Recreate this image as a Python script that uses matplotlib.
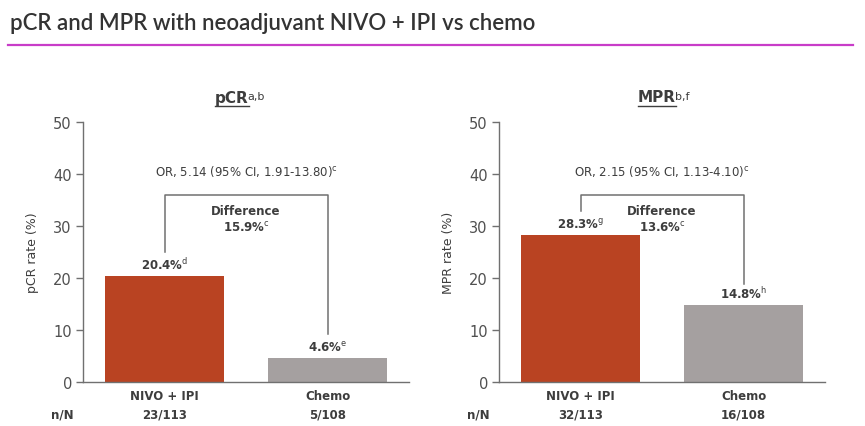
import matplotlib
matplotlib.use('Agg')
import matplotlib.pyplot as plt
from matplotlib.lines import Line2D

plt.rcParams['font.family'] = ['DejaVu Sans']
plt.rcParams['mathtext.fontset'] = 'dejavusans'

# data
groups = ['NIVO + IPI', 'Chemo']
counts_pcr = ['23/113', '5/108']
counts_mpr = ['32/113', '16/108']
pcr = [20.4, 4.6]
mpr = [28.3, 14.8]
pcr_labels = ['20.4%$^{\\mathrm{d}}$', '4.6%$^{\\mathrm{e}}$']
mpr_labels = ['28.3%$^{\\mathrm{g}}$', '14.8%$^{\\mathrm{h}}$']
pcr_or = 'OR, 5.14 (95% CI, 1.91-13.80)$^{\\mathrm{c}}$'
mpr_or = 'OR, 2.15 (95% CI, 1.13-4.10)$^{\\mathrm{c}}$'
pcr_diff = '15.9%$^{\\mathrm{c}}$'
mpr_diff = '13.6%$^{\\mathrm{c}}$'
# bracket: top level, left leg bottom, right leg bottom
pcr_bracket = [36, 25, 9.2]
mpr_bracket = [36, 32.9, 18.8]

W, H = 865, 427
txt = '#3d3d3d'
axc = '#707070'
bar_colors = ['#b94322', '#a5a0a0']

fig = plt.figure(figsize=(W / 100, H / 100), dpi=100)
fig.patch.set_facecolor('white')

fig.text(10 / W, 1 - 24 / H, 'pCR and MPR with neoadjuvant NIVO + IPI vs chemo',
         fontsize=16, color='#333333', va='center', ha='left',
         family=['Lato', 'DejaVu Sans'], fontweight='semibold')
fig.add_artist(Line2D([8 / W, 853 / W], [1 - 46 / H] * 2, color='#c83cc8', lw=1.6))


def panel(x0, vals, labels, counts, ortxt, diff, bracket, ylab, title, tcx, diff_x):
    ax = fig.add_axes([x0 / W, (H - 383) / H, 326 / W, 260 / H])
    ax.bar([0, 1], vals, width=0.73, color=bar_colors, edgecolor='none')
    ax.set_xlim(-0.5, 1.5)
    ax.set_ylim(0, 50)
    ax.set_yticks([0, 10, 20, 30, 40, 50])
    ax.set_xticks([0, 1])
    ax.set_xticklabels(groups, fontsize=8.5, fontweight='bold', color=txt)
    ax.tick_params(axis='x', length=0, pad=5)
    ax.tick_params(axis='y', length=5, width=1, color=axc, labelsize=10.5,
                   labelcolor='#505050', pad=3)
    for s in ['top', 'right']:
        ax.spines[s].set_visible(False)
    for s in ['left', 'bottom']:
        ax.spines[s].set_color(axc)
        ax.spines[s].set_linewidth(1)
    ax.set_ylabel(ylab, fontsize=9, color=txt, labelpad=10)
    for i, (v, l) in enumerate(zip(vals, labels)):
        ax.annotate(l, (i, v), xytext=(0, 3), textcoords='offset points',
                    ha='center', va='bottom', fontsize=8.5, fontweight='bold', color=txt)
    ax.text(0.5, 40.6, ortxt, ha='center', va='center', fontsize=8.5, color=txt)
    ax.plot([0, 0, 1, 1], [bracket[1], bracket[0], bracket[0], bracket[2]],
            color=axc, lw=1.1)
    ax.text(diff_x, 33, 'Difference', ha='center', va='center', fontsize=8.5,
            fontweight='bold', color=txt)
    ax.text(diff_x, 29.8, diff, ha='center', va='center', fontsize=8.5,
            fontweight='bold', color=txt)
    ax.text(-0.5 - 21 / 163, -0.125, 'n/N', transform=ax.get_xaxis_transform(),
            ha='center', va='center', fontsize=8.5, fontweight='bold', color=txt)
    for i, c in enumerate(counts):
        ax.text(i, -0.125, c, transform=ax.get_xaxis_transform(),
                ha='center', va='center', fontsize=8.5, fontweight='bold', color=txt)
    t = fig.text(tcx / W, 1 - 98 / H, title, ha='center', va='center',
                 fontsize=11, fontweight='bold', color=txt)
    return ax, t


ax1, t1 = panel(83, pcr, pcr_labels, counts_pcr, pcr_or, pcr_diff, pcr_bracket,
                'pCR rate (%)', 'pCR', 232, 0.5)
ax2, t2 = panel(499, mpr, mpr_labels, counts_mpr, mpr_or, mpr_diff, mpr_bracket,
                'MPR rate (%)', 'MPR', 657, 0.5)

fig.canvas.draw()
r = fig.canvas.get_renderer()
for t, sup in [(t1, 'a,b'), (t2, 'b,f')]:
    bb = t.get_window_extent(r)
    fig.text((bb.x1 - 1) / W, (bb.y1 - 1) / H, sup, ha='left', va='top',
             fontsize=8, color=txt)
    fig.add_artist(Line2D([bb.x0 / W, bb.x1 / W], [(bb.y0 - 1) / H] * 2,
                          color=txt, lw=1))

fig.savefig('out.png', dpi=100)
